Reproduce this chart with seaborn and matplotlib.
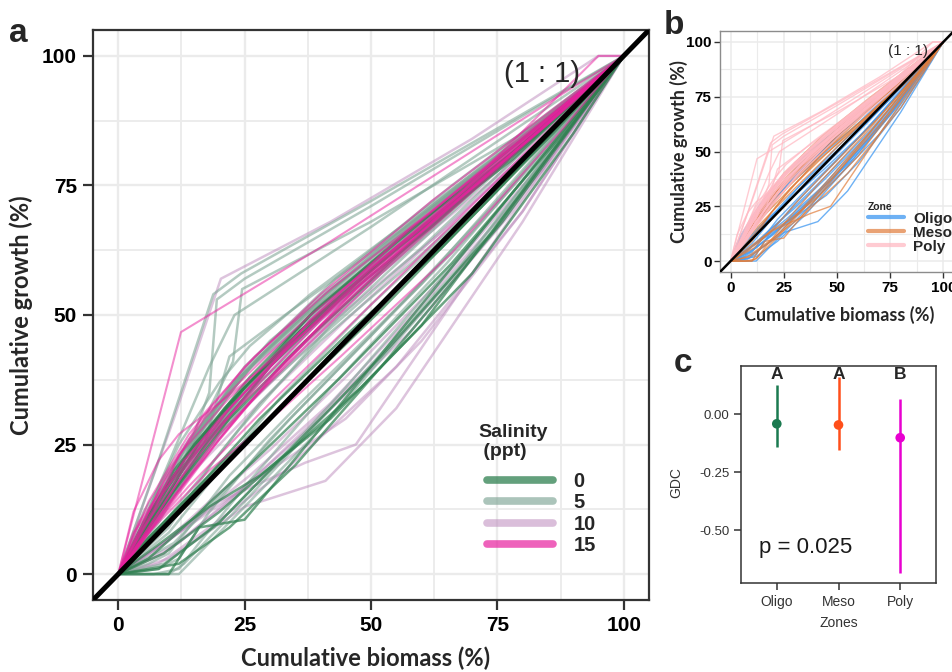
import matplotlib
matplotlib.use("Agg")
import matplotlib.pyplot as plt
import pandas as pd
import seaborn as sns
from matplotlib.lines import Line2D

sns.set_theme(style="white")
plt.rcParams["font.family"] = ["Liberation Sans", "DejaVu Sans"]

# ---- cumulative growth curves (one entry per stand) ----
curve_biomass = [
    # salinity 0
    [0, 5, 12, 25, 38, 55, 75, 100],
    [0, 10, 16, 25, 45, 70, 100],
    [0, 6, 14, 27, 44, 66, 88, 100],
    [0, 8, 18, 30, 47, 68, 100],
    [0, 4, 11, 22, 37, 58, 82, 100],
    [0, 9, 20, 34, 52, 74, 100],
    [0, 7, 15, 26, 40, 60, 80, 100],
    [0, 12, 22, 35, 52, 76, 100],
    [0, 5, 13, 24, 36, 54, 78, 100],
    [0, 6, 16, 28, 45, 64, 86, 100],
    [0, 10, 22, 36, 55, 78, 100],
    [0, 3, 10, 20, 33, 52, 74, 100],
    [0, 8, 20, 32, 48, 70, 90, 100],
    [0, 11, 21, 30, 44, 62, 84, 100],
    [0, 7, 18, 28, 42, 60, 100],
    [0, 9, 17, 26, 39, 57, 79, 100],
    # salinity 5
    [0, 8, 18.8, 24.3, 50, 75, 100],
    [0, 10, 18, 19.5, 25, 50, 100],
    [0, 12, 22.7, 24.5, 50, 80, 100],
    [0, 6, 12, 20, 40, 65, 100],
    [0, 5, 10, 13, 25, 45, 70, 100],
    [0, 8, 16, 24, 40, 60, 85, 100],
    [0, 6, 13, 25, 43, 66, 100],
    [0, 9, 18, 28, 44, 64, 88, 100],
    [0, 7, 15, 24, 38, 58, 80, 100],
    [0, 12, 24, 36, 55, 78, 100],
    [0, 4, 11, 20, 34, 52, 76, 100],
    [0, 10, 20, 32, 50, 72, 100],
    [0, 6, 16, 30, 48, 68, 100],
    [0, 8, 12, 18, 30, 50, 75, 100],
    [0, 14, 22, 30, 45, 65, 90, 100],
    [0, 5, 18, 23, 50, 100],
    [0, 9, 19, 30, 45, 70, 100],
    [0, 11, 20, 29, 41, 58, 80, 100],
    [0, 7, 12, 16, 26, 42, 65, 100],
    [0, 5, 14, 24, 37, 55, 77, 100],
    [0, 10, 19, 28, 40, 58, 82, 100],
    [0, 6, 15, 23, 35, 52, 74, 100],
    [0, 13, 25, 38, 54, 74, 100],
    [0, 8, 17, 22, 33, 50, 72, 100],
    [0, 3, 9, 16, 28, 46, 70, 100],
    [0, 11, 23, 34, 50, 70, 92, 100],
    [0, 9, 20, 35, 56, 80, 100],
    [0, 6, 10, 14, 22, 36, 60, 100],
    [0, 12, 20, 26, 38, 60, 85, 100],
    [0, 7, 16, 27, 41, 61, 83, 100],
    [0, 4, 8, 20, 38, 60, 100],
    [0, 10, 24, 42, 64, 100],
    # salinity 10
    [0, 10, 25, 41, 55, 80, 100],
    [0, 8, 20, 37, 47, 70, 100],
    [0, 6, 15, 28, 45, 66, 88, 100],
    [0, 10, 20, 35, 52, 74, 100],
    [0, 12, 25, 40, 58, 78, 100],
    [0, 7, 17, 30, 48, 70, 100],
    [0, 9, 22, 36, 54, 76, 100],
    [0, 5, 15, 25, 44, 64, 86, 100],
    [0, 13, 24, 35, 50, 70, 95, 100],
    [0, 8, 18, 33, 55, 80, 100],
    [0, 11, 20.3, 42, 70, 95, 100],
    [0, 9, 18, 30, 45, 65, 88, 100],
    [0, 6, 14, 26, 40, 60, 82, 100],
    [0, 12, 26, 42, 62, 84, 100],
    [0, 4, 12, 24, 40, 62, 100],
    [0, 15, 30, 45, 60, 80, 100],
    # salinity 15
    [0, 12.4, 42, 90, 100],
    [0, 6, 14, 25, 40, 62, 85, 100],
    [0, 5, 12, 22, 36, 55, 78, 100],
    [0, 8, 16, 28, 44, 66, 100],
    [0, 4, 10, 20, 32, 50, 75, 100],
    [0, 7, 15, 26, 40, 60, 82, 100],
    [0, 10, 20, 33, 50, 72, 100],
    [0, 6, 13, 24, 38, 58, 80, 100],
    [0, 9, 19, 31, 47, 68, 90, 100],
    [0, 3, 9, 18, 30, 48, 72, 100],
    [0, 12, 24, 38, 56, 78, 100],
    [0, 5, 11, 20, 34, 52, 76, 100],
    [0, 8, 17, 27, 42, 62, 85, 100],
    [0, 3, 8, 12, 20, 35, 60, 95, 100],
    [0, 6, 18, 28, 44, 66, 88, 100],
    [0, 10, 17, 25, 38, 60, 84, 100],
    [0, 4, 14, 30, 50, 74, 100],
    [0, 7, 12, 22, 34, 50, 72, 100],
]

curve_growth = [
    # salinity 0
    [0, 8, 19, 36, 50, 64, 80, 100],
    [0, 0, 9, 10.5, 34, 64, 100],
    [0, 3, 10, 22, 38, 60, 85, 100],
    [0, 12, 26, 40, 56, 73, 100],
    [0, 6, 16, 30, 45, 64, 84, 100],
    [0, 4, 12, 24, 42, 66, 100],
    [0, 13, 25, 37, 50, 67, 83, 100],
    [0, 2, 9, 21, 40, 68, 100],
    [0, 10, 22, 35, 47, 62, 80, 100],
    [0, 7, 17, 30, 46, 63, 85, 100],
    [0, 17, 33, 47, 63, 81, 100],
    [0, 4, 11, 21, 33, 51, 73, 100],
    [0, 1, 10, 22, 36, 58, 85, 100],
    [0, 20, 32, 41, 53, 67, 86, 100],
    [0, 5, 13, 19, 30, 48, 100],
    [0, 14, 27, 38, 51, 66, 82, 100],
    # salinity 5
    [0, 22, 54, 58, 72, 86, 100],
    [0, 14, 35, 53, 57, 71, 100],
    [0, 20, 41, 55, 68, 85, 100],
    [0, 0, 0, 8, 28, 56, 100],
    [0, 0, 0, 2, 14, 35, 62, 100],
    [0, 15, 28, 38, 52, 68, 88, 100],
    [0, 11, 24, 40, 57, 75, 100],
    [0, 16, 30, 42, 56, 72, 90, 100],
    [0, 10, 22, 34, 49, 66, 84, 100],
    [0, 18, 34, 47, 64, 82, 100],
    [0, 6, 15, 27, 42, 58, 79, 100],
    [0, 8, 20, 34, 52, 72, 100],
    [0, 9, 23, 40, 58, 75, 100],
    [0, 1, 3, 12, 26, 46, 72, 100],
    [0, 24, 36, 45, 57, 73, 92, 100],
    [0, 10, 40, 50, 67, 100],
    [0, 2, 9, 20, 36, 64, 100],
    [0, 21, 33, 43, 54, 68, 85, 100],
    [0, 0, 1, 6, 18, 36, 60, 100],
    [0, 12, 26, 38, 50, 64, 80, 100],
    [0, 9, 22, 33, 45, 60, 81, 100],
    [0, 8, 21, 33, 46, 61, 78, 100],
    [0, 22, 39, 52, 65, 80, 100],
    [0, 10, 25, 42, 50, 62, 78, 100],
    [0, 5, 13, 23, 37, 53, 74, 100],
    [0, 6, 18, 30, 46, 66, 90, 100],
    [0, 13, 29, 47, 64, 83, 100],
    [0, 2, 4, 9, 19, 33, 56, 100],
    [0, 25, 37, 44, 54, 70, 88, 100],
    [0, 12, 27, 41, 54, 70, 86, 100],
    [0, 8, 16, 28, 44, 63, 100],
    [0, 11, 28, 48, 68, 100],
    # salinity 10
    [0, 3, 13, 18, 32, 68, 100],
    [0, 5, 14, 21.5, 25, 58, 100],
    [0, 9, 20, 33, 49, 68, 88, 100],
    [0, 14, 27, 42, 58, 76, 100],
    [0, 6, 17, 30, 47, 70, 100],
    [0, 11, 25, 40, 56, 74, 100],
    [0, 4, 14, 27, 44, 68, 100],
    [0, 8, 21, 32, 50, 66, 86, 100],
    [0, 24, 38, 47, 60, 75, 96, 100],
    [0, 2, 9, 20, 40, 70, 100],
    [0, 30, 57, 68, 84, 100, 100],
    [0, 6, 14, 24, 38, 58, 84, 100],
    [0, 10, 22, 35, 49, 66, 84, 100],
    [0, 8, 19, 33, 54, 78, 100],
    [0, 7, 18, 33, 49, 67, 100],
    [0, 10, 20, 30, 45, 70, 100],
    # salinity 15
    [0, 46.7, 64.2, 94, 100],
    [0, 14, 27, 40, 54, 72, 89, 100],
    [0, 9, 19, 32, 46, 63, 82, 100],
    [0, 12, 24, 37, 53, 72, 100],
    [0, 10, 18, 30, 42, 59, 80, 100],
    [0, 10, 20, 33, 48, 66, 85, 100],
    [0, 13, 26, 41, 58, 76, 100],
    [0, 11, 22, 34, 49, 67, 84, 100],
    [0, 12, 25, 39, 55, 73, 91, 100],
    [0, 8, 16, 27, 38, 55, 76, 100],
    [0, 18, 33, 49, 65, 83, 100],
    [0, 7, 15, 27, 41, 58, 79, 100],
    [0, 16, 31, 42, 55, 70, 88, 100],
    [0, 12, 22, 27, 33, 45, 66, 100, 100],
    [0, 8, 20, 28, 42, 62, 86, 100],
    [0, 20, 30, 38, 50, 67, 86, 100],
    [0, 6, 17, 33, 52, 75, 100],
    [0, 12, 23, 34, 45, 59, 76, 100],
]

curve_salinity = [0] * 16 + [5] * 32 + [10] * 16 + [15] * 18

curve_zone = [
    # salinity 0
    "Oligo", "Meso", "Oligo", "Meso", "Oligo", "Oligo", "Meso", "Oligo",
    "Meso", "Oligo", "Poly", "Oligo", "Oligo", "Poly", "Meso", "Meso",
    # salinity 5
    "Poly", "Poly", "Poly", "Oligo", "Meso", "Poly", "Meso", "Poly",
    "Meso", "Poly", "Oligo", "Oligo", "Meso", "Oligo", "Poly", "Poly",
    "Meso", "Poly", "Meso", "Oligo", "Meso", "Meso", "Poly", "Poly",
    "Oligo", "Meso", "Poly", "Oligo", "Poly", "Meso", "Oligo", "Meso",
    # salinity 10
    "Oligo", "Meso", "Meso", "Poly", "Oligo", "Meso", "Oligo", "Meso",
    "Poly", "Meso", "Poly", "Oligo", "Meso", "Oligo", "Oligo", "Oligo",
    # salinity 15
    "Poly", "Poly", "Meso", "Poly", "Oligo", "Meso", "Poly", "Meso",
    "Poly", "Oligo", "Poly", "Meso", "Poly", "Poly", "Oligo", "Poly",
    "Meso", "Poly",
]

salinity_levels = [0, 5, 10, 15]
zone_levels = ["Oligo", "Meso", "Poly"]

# ---- growth dominance coefficient by zone ----
gdc_zones = ["Oligo", "Meso", "Poly"]
gdc_mean = [-0.042, -0.047, -0.102]
gdc_low = [-0.143, -0.155, -0.685]
gdc_high = [0.125, 0.16, 0.066]
gdc_letters = ["A", "A", "B"]
p_label = "p = 0.025"

axis_ticks = [0, 25, 50, 75, 100]
axis_minor = [12.5, 37.5, 62.5, 87.5]
axis_ticklabels = ["0", "25", "50", "75", "100"]
gdc_ticks = [0.0, -0.25, -0.5]
gdc_ticklabels = ["0.00", "-0.25", "-0.50"]

rows = []
for cid, (xs, ys) in enumerate(zip(curve_biomass, curve_growth)):
    for x, y in zip(xs, ys):
        rows.append({"curve": cid, "biomass": x, "growth": y,
                     "salinity": curve_salinity[cid], "zone": curve_zone[cid]})
curves = pd.DataFrame(rows)

gdc = pd.DataFrame({"zone": gdc_zones, "gdc": gdc_mean,
                    "low": gdc_low, "high": gdc_high})

sal_colors = {0: "#2F8050", 5: "#7FA595", 10: "#BC8ABC", 15: "#E8209E"}
sal_alpha = {0: 0.7, 5: 0.58, 10: 0.5, 15: 0.5}
sal_width = {0: 1.8, 5: 1.8, 10: 1.8, 15: 1.5}
zone_colors = {"Oligo": "#4A9EF2", "Meso": "#E07B39", "Poly": "#FFBAC4"}
zone_alpha = {"Oligo": 0.8, "Meso": 0.7, "Poly": 0.75}
gdc_colors = {"Oligo": "#1B7A50", "Meso": "#FF4F1A", "Poly": "#E800D0"}

TITLE_FONT = ["Lato", "DejaVu Sans"]
W, H = 952, 672
fig = plt.figure(figsize=(W / 100, H / 100), dpi=100)
fig.patch.set_facecolor("white")


def px_axes(left, top, right, bottom):
    return fig.add_axes([left / W, (H - bottom) / H, (right - left) / W, (bottom - top) / H])


def style_cumulative(ax, lw_major, lw_minor, spine_color, spine_lw, tick_len, tick_w, lab_size):
    ax.set_xlim(-5, 105)
    ax.set_ylim(-5, 105)
    ax.set_xticks(axis_ticks)
    ax.set_yticks(axis_ticks)
    ax.set_xticks(axis_minor, minor=True)
    ax.set_yticks(axis_minor, minor=True)
    ax.set_xticklabels(axis_ticklabels, fontweight="bold", fontsize=lab_size)
    ax.set_yticklabels(axis_ticklabels, fontweight="bold", fontsize=lab_size)
    ax.grid(which="major", color="#EBEBEB", lw=lw_major)
    ax.grid(which="minor", color="#EBEBEB", lw=lw_minor)
    ax.set_axisbelow(True)
    ax.tick_params(which="major", direction="out", length=tick_len, width=tick_w,
                   color="#333333", labelcolor="black", pad=tick_len * 0.55,
                   bottom=True, left=True)
    ax.tick_params(which="minor", length=0)
    for s in ax.spines.values():
        s.set_color(spine_color)
        s.set_linewidth(spine_lw)
    ax.set_facecolor("white")


# ---------------- panel a ----------------
ax_a = px_axes(93, 30, 649, 600)
for sal in [10, 5, 0, 15]:
    sns.lineplot(data=curves[curves["salinity"] == sal], x="biomass", y="growth",
                 units="curve", estimator=None, sort=False, color=sal_colors[sal],
                 alpha=sal_alpha[sal], lw=sal_width[sal], ax=ax_a, legend=False)
ax_a.axline((0, 0), (100, 100), color="black", lw=3.6, zorder=5)
style_cumulative(ax_a, 1.7, 1.3, "#333333", 1.6, 7.5, 1.6, 15)
ax_a.set_xlabel("Cumulative biomass (%)", fontfamily=TITLE_FONT, fontweight="bold", fontsize=17)
ax_a.set_ylabel("Cumulative growth (%)", fontfamily=TITLE_FONT, fontweight="bold", fontsize=17)
ax_a.xaxis.set_label_coords(0.49, -0.082)
ax_a.yaxis.set_label_coords(-0.108, 0.5)
ax_a.text(83.8, 96.5, "(1 : 1)", fontsize=21, ha="center", va="center", zorder=6)

# salinity legend: heading as its own text, keys below it
ax_a.text((478 - 93) / 556, (600 - 442) / 570, "Salinity\n (ppt)", transform=ax_a.transAxes,
          ha="left", va="center", fontsize=14, fontweight="bold", linespacing=1.15)
legend_alpha = {0: 0.75, 5: 0.65, 10: 0.55, 15: 0.7}
handles_a = [Line2D([], [], color=sal_colors[s], alpha=legend_alpha[s], lw=5.5)
             for s in salinity_levels]
ax_a.legend(handles_a, [str(s) for s in salinity_levels],
            loc="upper left", bbox_to_anchor=((487 - 93) / 556, (600 - 472) / 570),
            frameon=False, borderpad=0, borderaxespad=0, labelspacing=0.12,
            handlelength=3.3, handletextpad=1.0,
            prop={"weight": "bold", "size": 14.5})

# ---------------- panel b ----------------
ax_b = px_axes(720, 31, 954, 272)
for zone in zone_levels:
    sns.lineplot(data=curves[curves["zone"] == zone], x="biomass", y="growth",
                 units="curve", estimator=None, sort=False, color=zone_colors[zone],
                 alpha=zone_alpha[zone], lw=1.0, ax=ax_b, legend=False)
ax_b.axline((0, 0), (100, 100), color="black", lw=1.8, zorder=5)
style_cumulative(ax_b, 1.1, 0.8, "#8C8C8C", 1.0, 4, 1.0, 11)
ax_b.set_xlabel("Cumulative biomass (%)", fontfamily=TITLE_FONT, fontweight="bold", fontsize=13)
ax_b.set_ylabel("Cumulative growth (%)", fontfamily=TITLE_FONT, fontweight="bold", fontsize=13)
ax_b.xaxis.set_label_coords(0.508, -0.14)
ax_b.yaxis.set_label_coords(-0.137, 0.5)
ax_b.text(83.5, 96, "(1 : 1)", fontsize=11, ha="center", va="center", zorder=6)
handles_b = [Line2D([], [], color=zone_colors[z], alpha=zone_alpha[z], lw=3) for z in zone_levels]
ax_b.legend(handles_b, zone_levels, title="Zone", loc="upper left",
            bbox_to_anchor=((860 - 720) / 234, (272 - 194) / 241),
            frameon=False, borderpad=0, labelspacing=0.0, handlelength=2.4,
            handletextpad=0.6, alignment="left",
            prop={"weight": "bold", "size": 11},
            title_fontproperties={"weight": "bold", "size": 7.5})

# ---------------- panel c ----------------
ax_c = px_axes(741, 366, 936, 583)
ax_c.vlines(gdc["zone"], gdc["low"], gdc["high"],
            colors=[gdc_colors[z] for z in gdc_zones], lw=1.8, zorder=2)
sns.scatterplot(data=gdc, x="zone", y="gdc", hue="zone", palette=gdc_colors,
                s=48, edgecolor="none", legend=False, ax=ax_c, zorder=3)
for i, letter in enumerate(gdc_letters):
    ax_c.text(i, 0.172, letter, ha="center", va="center", fontsize=12.5, fontweight="bold")
ax_c.text(-0.29, -0.575, p_label, ha="left", va="center", fontsize=16, color="#1A1A1A")
ax_c.set_xlim(-0.58, 2.58)
ax_c.set_ylim(-0.728, 0.207)
ax_c.set_yticks(gdc_ticks)
ax_c.set_yticklabels(gdc_ticklabels, fontsize=9.5, color="#333333")
ax_c.set_xticks(range(len(gdc_zones)))
ax_c.set_xticklabels(gdc_zones, fontsize=10, color="#333333")
ax_c.tick_params(direction="out", length=5, width=1.1, color="#333333", pad=3.5,
                 bottom=True, left=True)
for s in ax_c.spines.values():
    s.set_color("#333333")
    s.set_linewidth(1.1)
ax_c.grid(False)
ax_c.set_facecolor("white")
ax_c.set_xlabel("Zones", fontsize=10, color="#333333")
ax_c.set_ylabel("GDC", fontsize=10, color="#333333")
ax_c.xaxis.set_label_coords(0.503, -0.152)
ax_c.yaxis.set_label_coords(-0.297, 0.465)

# ---------------- panel tags ----------------
fig.text(18 / W, 1 - 33 / H, "a", fontsize=24, fontweight="bold", ha="center", va="center")
fig.text(674 / W, 1 - 25 / H, "b", fontsize=24, fontweight="bold", ha="center", va="center")
fig.text(683 / W, 1 - 363 / H, "c", fontsize=24, fontweight="bold", ha="center", va="center")

fig.savefig("out.png", dpi=100, facecolor="white")
